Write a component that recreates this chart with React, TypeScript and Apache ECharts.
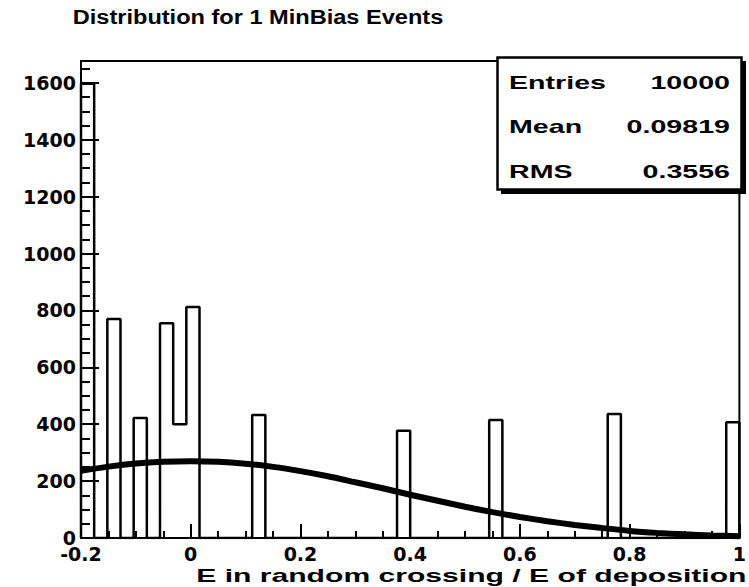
import React, { useEffect, useRef } from "react";
import * as echarts from "echarts";

// Histogram definition (50 bins from -0.2 to 1.0)
const xMin = -0.2;
const xMax = 1.0;
const binWidth = 0.024;
const binCounts = [
  1597, 0, 770, 0, 422, 0, 755, 400, 812, 0,
  0, 0, 0, 432, 0, 0, 0, 0, 0, 0,
  0, 0, 0, 0, 377, 0, 0, 0, 0, 0,
  0, 415, 0, 0, 0, 0, 0, 0, 0, 0,
  436, 0, 0, 0, 0, 0, 0, 0, 0, 407,
];

// Fit curve
const fitX = [-0.2, -0.15, -0.1, -0.05, 0, 0.05, 0.1, 0.15, 0.2, 0.25, 0.3, 0.35, 0.4, 0.45, 0.5, 0.55, 0.6, 0.65, 0.7, 0.75, 0.8, 0.85, 0.9, 0.95, 1.0];
const fitY = [236, 251, 262, 268, 270, 268, 261, 250, 235, 217, 196, 175, 152, 131, 110, 91, 74, 59, 46, 35, 25, 18, 13, 9, 6];

const xTickLabels = ["-0.2", "0", "0.2", "0.4", "0.6", "0.8", "1"];
const yTickLabels = ["0", "200", "400", "600", "800", "1000", "1200", "1400", "1600"];
const yMax = 1677;

const titleText = "Distribution for 1 MinBias Events";
const xTitleText = "E in random crossing / E of deposition";
const statNames = ["Entries", "Mean", "RMS"];
const statValues = ["10000", "0.09819", "0.3556"];

export default function App() {
  const ref = useRef<HTMLDivElement>(null);

  useEffect(() => {
    if (!ref.current) return;
    const chart = echarts.init(ref.current, undefined, { renderer: "svg" });

    const histData: number[][] = [[xMin, 0]];
    binCounts.forEach((c, i) => histData.push([xMin + i * binWidth, c]));
    histData.push([xMax, binCounts[binCounts.length - 1]]);
    histData.push([xMax, 0]);

    const fitData = fitX.map((x, i) => [x, fitY[i]]);

    const labelFont = {
      fontFamily: "DejaVu Sans",
      fontWeight: "bold" as const,
      fontSize: 19,
      lineHeight: 14,
      color: "#000",
    };
    const textFont = "Liberation Sans";

    const statRowsY = [82.5, 126, 171];
    const statTexts: any[] = [];
    statNames.forEach((n, i) => {
      statTexts.push({
        type: "text",
        x: 509,
        y: statRowsY[i],
        scaleX: 1.53,
        z: 103,
        style: {
          text: n,
          fontFamily: textFont,
          fontWeight: "bold",
          fontSize: 18.7,
          fill: "#000",
          textAlign: "left",
          textVerticalAlign: "middle",
        },
      });
      statTexts.push({
        type: "text",
        x: 730,
        y: statRowsY[i],
        scaleX: 1.53,
        z: 103,
        style: {
          text: statValues[i],
          fontFamily: textFont,
          fontWeight: "bold",
          fontSize: 18.7,
          fill: "#000",
          textAlign: "right",
          textVerticalAlign: "middle",
        },
      });
    });

    chart.setOption({
      animation: false,
      backgroundColor: "#fff",
      grid: {
        left: 81,
        right: 3,
        top: 61,
        bottom: 49,
        show: true,
        borderColor: "#000",
        borderWidth: 2,
        backgroundColor: "transparent",
      },
      xAxis: {
        type: "value",
        min: xMin,
        max: xMax,
        interval: 0.2,
        axisLine: { show: true, onZero: false, lineStyle: { color: "#000", width: 2 } },
        axisTick: { show: true, inside: true, length: 14, lineStyle: { color: "#000", width: 2 } },
        minorTick: { show: true, splitNumber: 4, length: 7, lineStyle: { color: "#000", width: 2 } },
        splitLine: { show: false },
        axisLabel: {
          ...labelFont,
          margin: 9,
          formatter: (v: number) => {
            const s = String(Math.round(v * 10) / 10);
            return xTickLabels.includes(s) ? s : "";
          },
        },
      },
      yAxis: {
        type: "value",
        min: 0,
        max: yMax,
        interval: 200,
        axisLine: { show: true, onZero: false, lineStyle: { color: "#000", width: 2 } },
        axisTick: { show: true, inside: true, length: 18, lineStyle: { color: "#000", width: 2 } },
        minorTick: { show: true, splitNumber: 4, length: 9, lineStyle: { color: "#000", width: 2 } },
        splitLine: { show: false },
        axisLabel: {
          ...labelFont,
          margin: 5,
          showMaxLabel: false,
          formatter: (v: number) => {
            const s = String(Math.round(v));
            return yTickLabels.includes(s) ? s : "";
          },
        },
      },
      series: [
        {
          type: "line",
          data: histData,
          step: "end",
          symbol: "none",
          lineStyle: { color: "#000", width: 2.5 },
          z: 3,
        },
        {
          type: "line",
          data: fitData,
          smooth: 0.3,
          symbol: "none",
          lineStyle: { color: "#000", width: 6 },
          z: 4,
        },
      ],
      graphic: [
        {
          type: "text",
          x: 258,
          y: 16.7,
          scaleX: 1.15,
          z: 100,
          style: {
            text: titleText,
            fontFamily: textFont,
            fontWeight: "bold",
            fontSize: 20.5,
            fill: "#000",
            textAlign: "center",
            textVerticalAlign: "middle",
          },
        },
        {
          type: "text",
          x: 746.5,
          y: 575,
          scaleX: 1.62,
          z: 100,
          style: {
            text: xTitleText,
            fontFamily: textFont,
            fontWeight: "bold",
            fontSize: 18.6,
            fill: "#000",
            textAlign: "right",
            textVerticalAlign: "middle",
          },
        },
        {
          type: "rect",
          shape: { x: 501, y: 61, width: 245, height: 133 },
          z: 101,
          style: { fill: "#000" },
        },
        {
          type: "rect",
          shape: { x: 497.5, y: 57.5, width: 244, height: 132 },
          z: 102,
          style: { fill: "#fff", stroke: "#000", lineWidth: 2.5 },
        },
        ...statTexts,
      ],
    });

    return () => chart.dispose();
  }, []);

  return (
    <div
      ref={ref}
      style={{ position: "fixed", left: 0, top: 0, width: 749, height: 587 }}
    />
  );
}
